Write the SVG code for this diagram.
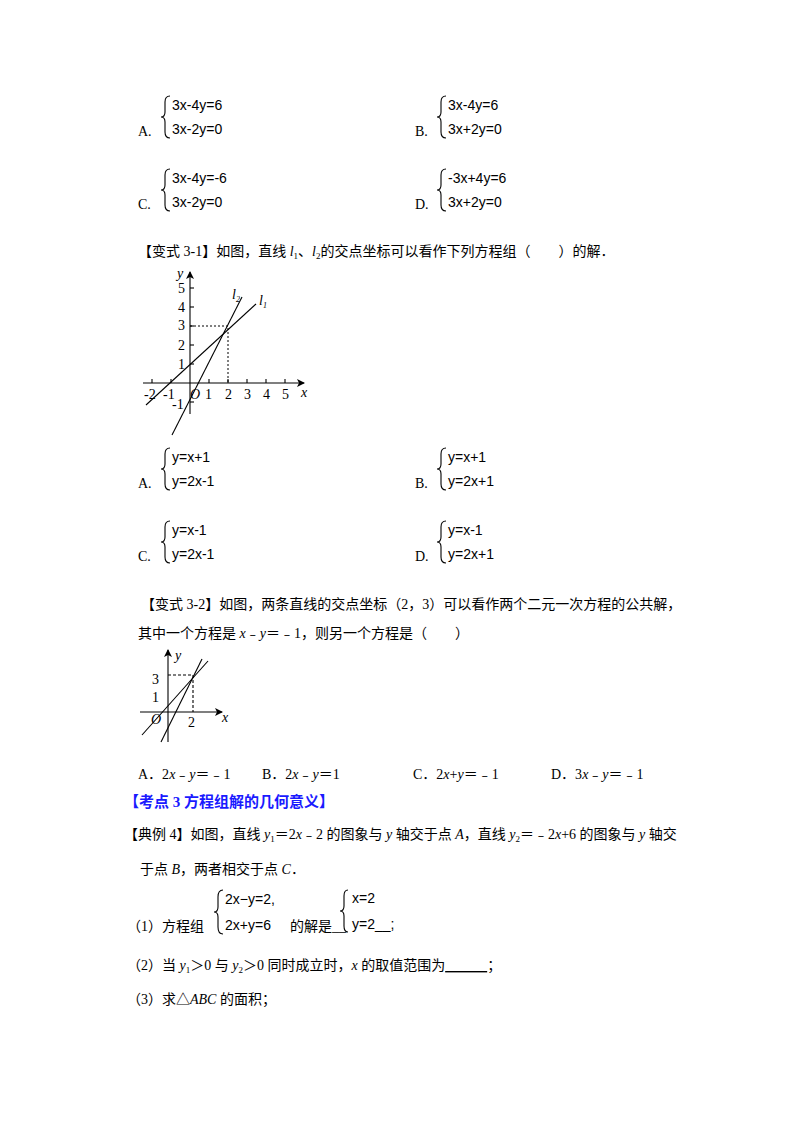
<svg xmlns="http://www.w3.org/2000/svg" width="800" height="1132" viewBox="0 0 800 1132">
<defs>
<style>
text{font-family:"Liberation Serif","Noto Sans CJK SC",serif;font-size:14px;fill:#000}
.s{font-family:"Liberation Sans","Noto Sans CJK SC",sans-serif;font-size:14px}
.g{font-family:"Liberation Sans",sans-serif;font-size:12px}
.b{font-weight:bold;fill:#1a1aff;font-size:15px}
.br{fill:none;stroke:#000;stroke-width:1.1}
.ax{stroke:#000;stroke-width:1.1;fill:none}
.dt{stroke:#000;stroke-width:1;stroke-dasharray:2,2;fill:none}
</style>
<marker id="ar" markerWidth="8" markerHeight="8" refX="7" refY="4" orient="auto" markerUnits="userSpaceOnUse"><path d="M0,0 L8,4 L0,8 L2,4 Z" fill="#000"/></marker>
</defs>
<g id="q-options">
<path class="br" d="M170,96 q-5,0 -5,6 v10 q0,5 -4,5 q4,0 4,5 v10 q0,6 5,6"/>
<text x="138" y="136">A.</text><text class="s" x="172" y="110">3x-4y=6</text><text class="s" x="172" y="134">3x-2y=0</text>
<path class="br" d="M446,96 q-5,0 -5,6 v10 q0,5 -4,5 q4,0 4,5 v10 q0,6 5,6"/>
<text x="415" y="136">B.</text><text class="s" x="448" y="110">3x-4y=6</text><text class="s" x="448" y="134">3x+2y=0</text>
<path class="br" d="M170,169 q-5,0 -5,6 v10 q0,5 -4,5 q4,0 4,5 v10 q0,6 5,6"/>
<text x="138" y="209">C.</text><text class="s" x="172" y="183">3x-4y=-6</text><text class="s" x="172" y="207">3x-2y=0</text>
<path class="br" d="M446,169 q-5,0 -5,6 v10 q0,5 -4,5 q4,0 4,5 v10 q0,6 5,6"/>
<text x="415" y="209">D.</text><text class="s" x="448" y="183">-3x+4y=6</text><text class="s" x="448" y="207">3x+2y=0</text>
</g>
<g id="v31-title"><text x="138" y="256">【变式 3-1】如图，直线 <tspan font-style="italic">l</tspan><tspan font-size="9" dy="3">1</tspan><tspan dy="-3">、</tspan><tspan font-style="italic">l</tspan><tspan font-size="9" dy="3">2</tspan><tspan dy="-3">的交点坐标可以看作下列方程组（　　）的解．</tspan></text></g>
<g id="graph1">
<line class="ax" x1="143" y1="383" x2="304" y2="383" marker-end="url(#ar)"/>
<line class="ax" x1="190" y1="414" x2="190" y2="272" marker-end="url(#ar)"/>
<g class="ax">
<line x1="152" y1="383" x2="152" y2="379"/><line x1="171" y1="383" x2="171" y2="379"/><line x1="209" y1="383" x2="209" y2="379"/><line x1="228" y1="383" x2="228" y2="379"/><line x1="247" y1="383" x2="247" y2="379"/><line x1="266" y1="383" x2="266" y2="379"/><line x1="285" y1="383" x2="285" y2="379"/>
<line x1="190" y1="364" x2="194" y2="364"/><line x1="190" y1="345" x2="194" y2="345"/><line x1="190" y1="326" x2="194" y2="326"/><line x1="190" y1="307" x2="194" y2="307"/><line x1="190" y1="288" x2="194" y2="288"/><line x1="190" y1="402" x2="194" y2="402"/>
</g>
<polyline class="dt" points="190,326 228,326 228,383"/>
<line class="ax" x1="146" y1="405" x2="256" y2="304"/>
<line class="ax" x1="172" y1="435" x2="242" y2="297"/>
<g class="g">
<text x="177" y="278" font-style="italic">y</text>
<text x="178" y="293">5</text><text x="178" y="312">4</text><text x="178" y="330">3</text><text x="178" y="350">2</text><text x="178" y="369">1</text><text x="172" y="409">-1</text>
<text x="144" y="399">-2</text><text x="163" y="399">-1</text><text x="190" y="399" font-style="italic">O</text><text x="205" y="399">1</text><text x="225" y="399">2</text><text x="244" y="399">3</text><text x="263" y="399">4</text><text x="282" y="399">5</text>
<text x="301" y="397" font-style="italic">x</text>
<text x="232" y="299" font-style="italic">l<tspan font-size="8" dy="3">2</tspan></text>
<text x="259" y="305" font-style="italic">l<tspan font-size="8" dy="3">1</tspan></text>
</g>
</g>
<g id="v31-options">
<path class="br" d="M170,448 q-5,0 -5,6 v10 q0,5 -4,5 q4,0 4,5 v10 q0,6 5,6"/>
<text x="138" y="488">A.</text><text class="s" x="172" y="462">y=x+1</text><text class="s" x="172" y="486">y=2x-1</text>
<path class="br" d="M446,448 q-5,0 -5,6 v10 q0,5 -4,5 q4,0 4,5 v10 q0,6 5,6"/>
<text x="415" y="488">B.</text><text class="s" x="448" y="462">y=x+1</text><text class="s" x="448" y="486">y=2x+1</text>
<path class="br" d="M170,521 q-5,0 -5,6 v10 q0,5 -4,5 q4,0 4,5 v10 q0,6 5,6"/>
<text x="138" y="561">C.</text><text class="s" x="172" y="535">y=x-1</text><text class="s" x="172" y="559">y=2x-1</text>
<path class="br" d="M446,521 q-5,0 -5,6 v10 q0,5 -4,5 q4,0 4,5 v10 q0,6 5,6"/>
<text x="415" y="561">D.</text><text class="s" x="448" y="535">y=x-1</text><text class="s" x="448" y="559">y=2x+1</text>
</g>
<g id="v32-title">
<text x="141" y="609">【变式 3-2】如图，两条直线的交点坐标（2，3）可以看作两个二元一次方程的公共解，</text>
<text x="138" y="638">其中一个方程是 <tspan font-style="italic">x</tspan>﹣<tspan font-style="italic">y</tspan>＝﹣1，则另一个方程是（　　）</text>
</g>
<g id="graph2">
<line class="ax" x1="140" y1="712" x2="222" y2="712" marker-end="url(#ar)"/>
<line class="ax" x1="168" y1="742" x2="168" y2="650" marker-end="url(#ar)"/>
<polyline class="ax" stroke-dasharray="3,2" points="168,675 193,675 193,712"/>
<line class="ax" x1="142" y1="735" x2="208" y2="661"/>
<line class="ax" x1="161" y1="742" x2="202" y2="659"/>
<text x="175" y="660" font-style="italic">y</text>
<text x="152" y="684">3</text><text x="152" y="702">1</text>
<text x="151" y="724" font-style="italic">O</text>
<text x="188" y="727">2</text>
<text x="222" y="722" font-style="italic">x</text>
</g>
<g id="v32-options">
<text x="138" y="779">A．2<tspan font-style="italic">x</tspan>﹣<tspan font-style="italic">y</tspan>＝﹣1</text>
<text x="262" y="779">B．2<tspan font-style="italic">x</tspan>﹣<tspan font-style="italic">y</tspan>＝1</text>
<text x="413" y="779">C．2<tspan font-style="italic">x</tspan>+<tspan font-style="italic">y</tspan>＝﹣1</text>
<text x="551" y="779">D．3<tspan font-style="italic">x</tspan>﹣<tspan font-style="italic">y</tspan>＝﹣1</text>
</g>
<g id="kd3"><text class="b" x="124" y="807">【考点 3  方程组解的几何意义】</text></g>
<g id="dl4">
<text x="124" y="839">【典例 4】如图，直线 <tspan font-style="italic">y</tspan><tspan font-size="9" dy="3">1</tspan><tspan dy="-3">＝2</tspan><tspan font-style="italic">x</tspan>﹣2 的图象与 <tspan font-style="italic">y</tspan> 轴交于点 <tspan font-style="italic">A</tspan>，直线 <tspan font-style="italic">y</tspan><tspan font-size="9" dy="3">2</tspan><tspan dy="-3">＝﹣2</tspan><tspan font-style="italic">x</tspan>+6 的图象与 <tspan font-style="italic">y</tspan> 轴交</text>
<text x="140" y="874">于点 <tspan font-style="italic">B</tspan>，两者相交于点 <tspan font-style="italic">C</tspan>．</text>
<text x="127" y="931">（1）方程组</text>
<path class="br" d="M223,890 q-5,0 -5,7 v10 q0,5 -4,5 q4,0 4,5 v10 q0,7 5,7"/>
<text class="s" x="225" y="904">2x−y=2,</text>
<text class="s" x="225" y="930">2x+y=6</text>
<text x="290" y="931">的解是__</text>
<path class="br" d="M348,890 q-4,0 -4,6 v10 q0,5 -4,5 q4,0 4,5 v10 q0,6 4,6"/>
<text class="s" x="352" y="903">x=2</text>
<text class="s" x="352" y="929">y=2__;</text>
<text x="127" y="970">（2）当 <tspan font-style="italic">y</tspan><tspan font-size="9" dy="3">1</tspan><tspan dy="-3">＞0 与 </tspan><tspan font-style="italic">y</tspan><tspan font-size="9" dy="3">2</tspan><tspan dy="-3">＞0 同时成立时，</tspan><tspan font-style="italic">x</tspan> 的取值范围为<tspan text-decoration="underline">　　　</tspan>；</text>
<text x="127" y="1004">（3）求△<tspan font-style="italic">ABC</tspan> 的面积；</text>
</g>
</svg>
